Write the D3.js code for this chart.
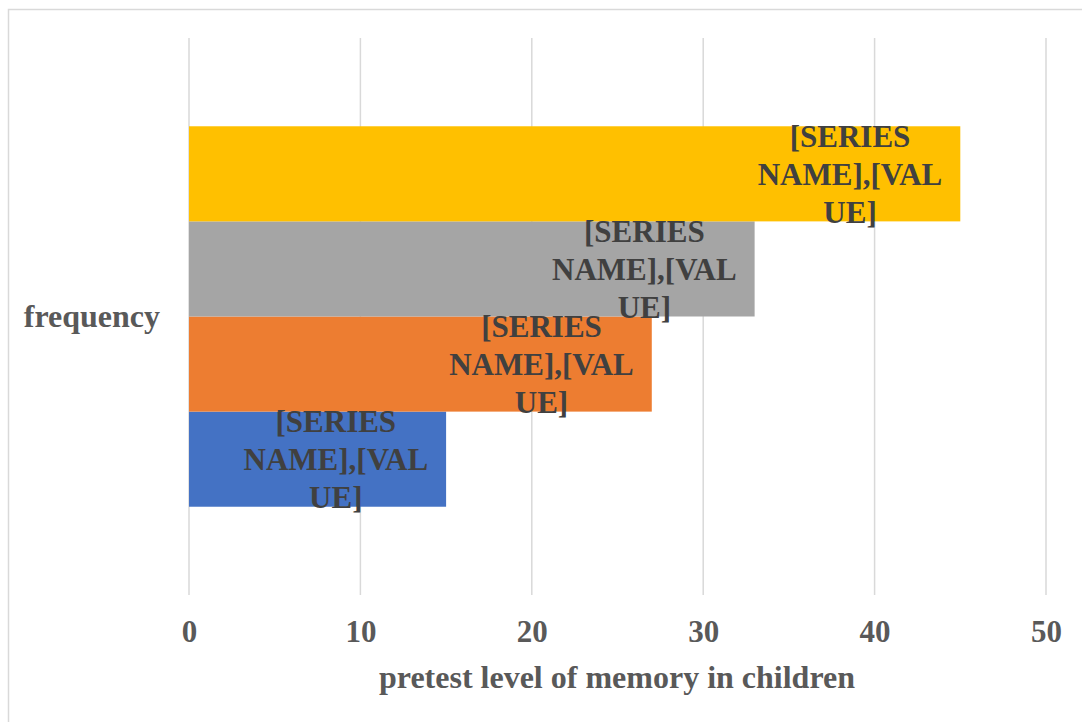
<!DOCTYPE html>
<html><head><meta charset="utf-8">
<script src="https://cdn.jsdelivr.net/npm/d3@7"></script>
<style>html,body{margin:0;padding:0;background:#fff;overflow:hidden}</style>
</head><body>
<svg id="c" width="1082" height="722"></svg>
<script>
const categories = ["frequency"];
const seriesNames = ["Series1", "Series2", "Series3", "Series4"];
const seriesValues = [15, 27, 33, 45];
const seriesColors = ["#4472C4", "#ED7D31", "#A5A5A5", "#FFC000"];
const labelLines = ["[SERIES", "NAME],[VAL", "UE]"];
const xTicks = [0, 10, 20, 30, 40, 50];
const xTitle = "pretest level of memory in children";

const svg = d3.select("#c");
const font = "'Liberation Serif','Times New Roman',serif";

// outer frame
svg.append("rect").attr("x", 8.5).attr("y", 9.5).attr("width", 1100).attr("height", 740)
  .attr("fill", "none").attr("stroke", "#d9d9d9").attr("stroke-width", 1.5);

const plot = {left: 189, right: 1046, top: 38, bottom: 595};
const x = d3.scaleLinear().domain([0, 50]).range([plot.left, plot.right]);
const y = d3.scaleBand().domain(categories).range([plot.top, plot.bottom]).paddingInner(0).paddingOuter(0.232);
const ys = d3.scaleBand().domain(seriesNames.slice().reverse()).range([0, y.bandwidth()]);

// gridlines
svg.append("g").selectAll("line").data(xTicks).join("line")
  .attr("x1", d => x(d)).attr("x2", d => x(d))
  .attr("y1", plot.top).attr("y2", plot.bottom)
  .attr("stroke", "#d9d9d9").attr("stroke-width", 1.5);

// bars
const g = svg.append("g");
seriesNames.forEach((s, i) => {
  const yy = y(categories[0]) + ys(s);
  g.append("rect").attr("x", x(0)).attr("y", yy)
    .attr("width", x(seriesValues[i]) - x(0)).attr("height", ys.bandwidth())
    .attr("fill", seriesColors[i]);
});

// labels
seriesNames.forEach((s, i) => {
  const cy = y(categories[0]) + ys(s) + ys.bandwidth() / 2;
  const t = svg.append("text").attr("font-family", font).attr("font-weight", "bold")
    .attr("font-size", 31).attr("fill", "#404040").attr("text-anchor", "middle");
  const ts = labelLines.map((l, k) => t.append("tspan").text(l));
  let w = 0;
  ts.forEach(n => { w = Math.max(w, n.node().getComputedTextLength()); });
  const cx = x(seriesValues[i]) - 18 - w / 2;
  ts.forEach((n, k) => n.attr("x", cx).attr("y", cy + (k - 1) * 38 + 11));
});

// axis tick labels
const axis = d3.axisBottom(x).tickValues(xTicks).tickSize(0).tickPadding(0);
const ag = svg.append("g").attr("transform", `translate(0,${642})`).call(axis);
ag.select(".domain").remove();
ag.selectAll("text").attr("font-family", font).attr("font-weight", "bold")
  .attr("font-size", 31).attr("fill", "#595959").attr("dy", 0).attr("y", 0);

// axis title
svg.append("text").attr("x", 617).attr("y", 688).attr("text-anchor", "middle")
  .attr("font-family", font).attr("font-weight", "bold").attr("font-size", 32)
  .attr("fill", "#595959").text(xTitle);

// category label
svg.append("text").attr("x", 160).attr("y", y(categories[0]) + y.bandwidth() / 2 + 10)
  .attr("text-anchor", "end")
  .attr("font-family", font).attr("font-weight", "bold").attr("font-size", 32)
  .attr("fill", "#595959").text(categories[0]);
</script>
</body></html>
